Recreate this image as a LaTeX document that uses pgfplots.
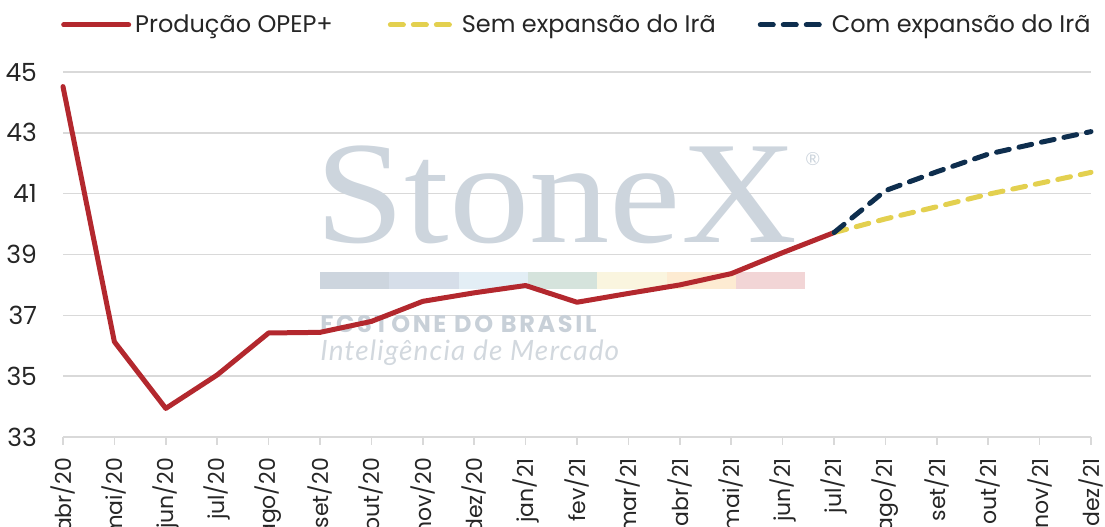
\documentclass[border=0pt]{standalone}
\usepackage{fontspec}
\setmainfont{Poppins}
\newfontfamily\wmserif{Liberation Serif}
\newfontfamily\wmsans{Lato}[LetterSpace=4]
\newfontfamily\wmwide{Poppins}[LetterSpace=11]
\usepackage{pgfplots}
\pgfplotsset{compat=1.18}
\definecolor{opep}{HTML}{B3282E}
\definecolor{sem}{HTML}{E3D04F}
\definecolor{com}{HTML}{0E2E4E}
\definecolor{gridc}{HTML}{D9D9D9}
\definecolor{wm}{HTML}{CDD5DD}
\definecolor{wmtxt}{HTML}{C8D0D8}
\definecolor{wmtxtb}{HTML}{D2D8DE}
\definecolor{b1}{HTML}{CDD5DE}
\definecolor{b2}{HTML}{D6DEE9}
\definecolor{b3}{HTML}{E3EEF5}
\definecolor{b4}{HTML}{D5E3DC}
\definecolor{b5}{HTML}{FAF5DF}
\definecolor{b6}{HTML}{FDEBD2}
\definecolor{b7}{HTML}{F2D5D6}
\begin{document}
\begin{tikzpicture}
\begin{axis}[name=ax, scale only axis, width=514pt, height=182.5pt,
  xmin=0, xmax=20, ymin=33, ymax=45,
  ytick={33,35,...,45},
  xtick={0,...,20},
  xticklabels={abr/20,mai/20,jun/20,jul/20,ago/20,set/20,out/20,nov/20,dez/20,jan/21,fev/21,mar/21,abr/21,mai/21,jun/21,jul/21,ago/21,set/21,out/21,nov/21,dez/21},
  axis line style={draw=none},
  ymajorgrids, grid style={gridc, line width=0.75pt},
  xtick pos=bottom, ytick pos=left, tick align=outside, major tick length=4pt,
  xtick style={gridc, line width=0.75pt}, ytick style={draw=none},
  /pgf/number format/assume math mode=true,
  tick label style={font=\fontsize{12}{14}\selectfont, text=black!85},
  x tick label style={rotate=90, anchor=east, font=\fontsize{11}{13}\selectfont},
  xticklabel shift=3pt,
  y tick label style={font=\fontsize{12.5}{14}\selectfont, xshift=-5.5pt},
  clip=false,
  legend columns=3,
  legend style={draw=none, fill=none, at={(rel axis cs:-0.008,1.129)}, anchor=west,
    font=\fontsize{12}{14}\selectfont, text=black!85,
    /tikz/column 2/.style={column sep=25.5pt},
    /tikz/column 4/.style={column sep=19pt}},
  legend image code/.code={\draw[#1] (1.25pt,0pt) -- (33.75pt,0pt);},
]
% watermark
\node[anchor=base west, font=\wmserif\fontsize{73}{73}\selectfont, text=wm, inner sep=0, xscale=1.1, transform shape] at (axis cs:4.9,39.41) {StoneX};
\node[anchor=center, font=\wmsans\fontsize{9}{9}\selectfont, text=wm, inner sep=0] at (axis cs:14.59,42.14) {®};
\fill[b1] (axis cs:5.0,37.87) rectangle (axis cs:6.349,38.43);
\fill[b2] (axis cs:6.349,37.87) rectangle (axis cs:7.698,38.43);
\fill[b3] (axis cs:7.698,37.87) rectangle (axis cs:9.047,38.43);
\fill[b4] (axis cs:9.047,37.87) rectangle (axis cs:10.396,38.43);
\fill[b5] (axis cs:10.396,37.87) rectangle (axis cs:11.745,38.43);
\fill[b6] (axis cs:11.745,37.87) rectangle (axis cs:13.094,38.43);
\fill[b7] (axis cs:13.094,37.87) rectangle (axis cs:14.443,38.43);
\node[anchor=base west, font=\wmwide\bfseries\fontsize{12}{12}\selectfont, text=wmtxt, inner sep=0] at (axis cs:5.0,36.45) {FCSTONE DO BRASIL};
\node[anchor=base west, font=\wmsans\itshape\fontsize{14}{14}\selectfont, text=wmtxtb, inner sep=0] at (axis cs:5.0,35.53) {Inteligência de Mercado};
% data
\addplot[opep, line width=2.5pt, line join=round, line cap=round] coordinates {
(0,44.52) (1,36.13) (2,33.94) (3,35.04) (4,36.42) (5,36.44) (6,36.8) (7,37.46)
(8,37.74) (9,37.98) (10,37.43) (11,37.72) (12,38.0) (13,38.37) (14,39.06) (15,39.72)};
\addlegendentry{Produção OPEP+}
\addplot[sem, line width=2.5pt, dash pattern=on 6.5pt off 5pt, line cap=round] coordinates {
(15,39.72) (16,40.17) (17,40.57) (18,40.98) (19,41.34) (20,41.7)};
\addlegendentry{Sem expansão do Irã}
\addplot[com, line width=2.5pt, dash pattern=on 6.5pt off 5pt, line cap=round] coordinates {
(15,39.72) (16,41.1) (17,41.72) (18,42.3) (19,42.68) (20,43.04)};
\addlegendentry{Com expansão do Irã}
\end{axis}
\pgfresetboundingbox
\path[use as bounding box] ([shift={(-31.5pt,-45pt)}]ax.south west) rectangle ([shift={(7pt,36pt)}]ax.north east);
\end{tikzpicture}
\end{document}
